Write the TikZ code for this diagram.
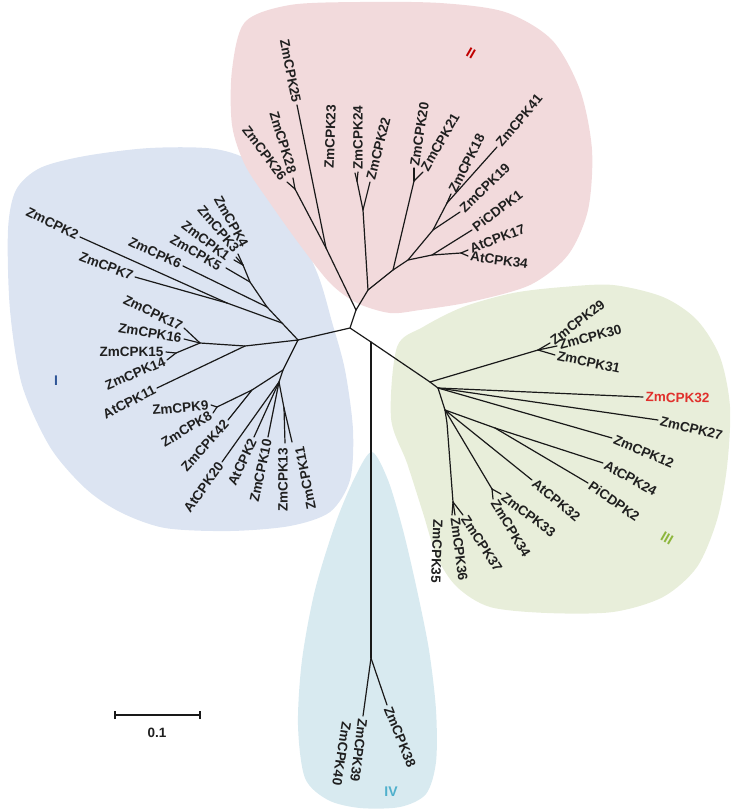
\documentclass[tikz,border=0pt]{standalone}
\usepackage{fontspec}
\setmainfont{Liberation Sans}
\definecolor{blobI}{HTML}{DCE4F2}
\definecolor{blobII}{HTML}{F2DADC}
\definecolor{blobIII}{HTML}{E8EEDA}
\definecolor{blobIV}{HTML}{D8EAF0}
\definecolor{tagI}{HTML}{2F5597}
\definecolor{tagII}{HTML}{C00000}
\definecolor{tagIII}{HTML}{8DB63C}
\definecolor{tagIV}{HTML}{4FB0CC}
\definecolor{hilite}{HTML}{E0302C}
\tikzset{
  branch/.style={draw=black!90, line width=1.2pt, line cap=round},
  tip/.style={font=\fontsize{13.5}{15}\selectfont\bfseries, text=black!88, inner sep=2pt},
  tipL/.style={tip, anchor=east},
  tipR/.style={tip, anchor=west},
  cladetag/.style={font=\fontsize{14}{16}\selectfont\bfseries},
}

\begin{document}
\begin{tikzpicture}[x=1pt, y=-1pt]
  \useasboundingbox (0,0) rectangle (733,811);

  % clade backgrounds
  \fill[blobI] plot[smooth cycle] coordinates {(8,230) (16,190) (40,168) (85,156) (150,148)
    (215,149) (255,165) (290,215) (318,275) (332,322) (345,370) (353,430) (350,480)
    (330,512) (290,526) (230,531) (165,528) (120,512) (85,488) (50,447) (22,385) (10,310)};
  \fill[blobII] plot[smooth cycle] coordinates {(245,22) (290,5) (360,2) (440,3) (505,12)
    (552,40) (580,90) (592,150) (588,210) (568,255) (530,285) (470,302) (420,310)
    (390,313) (357,303) (330,283) (300,245) (270,203) (245,165) (232,125) (232,70)};
  \fill[blobIII] plot[smooth cycle] coordinates {(397,347) (423,327) (463,307) (513,293)
    (563,287) (613,285) (663,297) (697,320) (720,357) (730,407) (727,467) (717,520)
    (697,567) (663,597) (613,612) (547,613) (490,607) (457,587) (437,557) (423,513)
    (407,463) (391,418)};
  \fill[blobIV] plot[smooth cycle] coordinates {(372,452) (388,480) (403,530) (417,590)
    (429,650) (436,710) (436,762) (426,794) (400,807) (360,808) (328,800) (305,778)
    (298,725) (302,660) (315,590) (336,522) (356,475)};

  % clade numerals
  \node[cladetag, text=tagI] (tagI) at (56,381) {I};
  \node[cladetag, text=tagII, rotate=-30] (tagII) at (471,53) {II};
  \node[cladetag, text=tagIII, rotate=-30] (tagIII) at (667,538) {III};
  \node[cladetag, text=tagIV] (tagIV) at (391,792) {IV};

  % internal nodes
  \coordinate (root) at (350,328);
  \coordinate (n4) at (371,342);
  \coordinate (Ir) at (298,340);
  \coordinate (Ia) at (282,323);
  \coordinate (Ia7) at (227,303);
  \coordinate (Ia2) at (267,307);
  \coordinate (Ia3) at (250,282);
  \coordinate (f4) at (243,265);
  \coordinate (Im) at (245,346);
  \coordinate (Im1) at (200,343);
  \coordinate (f1415) at (176,353);
  \coordinate (Ib) at (283,370);
  \coordinate (Ib1) at (252,390);
  \coordinate (f89) at (217,407);
  \coordinate (Ib2) at (279,382);
  \coordinate (f1311) at (284,408);
  \coordinate (IIr) at (356,310);
  \coordinate (IIa) at (326,248);
  \coordinate (f2628) at (295,189);
  \coordinate (IIb) at (368,290);
  \coordinate (IIb1) at (363,210);
  \coordinate (f2324) at (357,181);
  \coordinate (IIc) at (393,270);
  \coordinate (f2021) at (414,181);
  \coordinate (IId) at (408,260);
  \coordinate (IIe) at (433,230);
  \coordinate (IIe2) at (447,203);
  \coordinate (IIf) at (432,255);
  \coordinate (f1734) at (461,253);
  \coordinate (IIIr) at (430,382);
  \coordinate (f2931) at (538,350);
  \coordinate (IIIa) at (438,388);
  \coordinate (IIIb) at (445,410);
  \coordinate (IIIc) at (495,428);
  \coordinate (f3334) at (492,489);
  \coordinate (IIId) at (447,423);
  \coordinate (f3537) at (453,502);
  \coordinate (IVn) at (371,658);

  % tips
  \coordinate (t2) at (80,237);    \coordinate (t7) at (135,277);
  \coordinate (t6) at (183,266);   \coordinate (t5) at (226,268);
  \coordinate (t1) at (234,260);   \coordinate (t3) at (236,257);
  \coordinate (t4) at (238,254);   \coordinate (t17) at (184,328);
  \coordinate (t16) at (184,339);  \coordinate (t15) at (166,352);
  \coordinate (t14) at (167,360);  \coordinate (tA11) at (157,388);
  \coordinate (t9) at (211,405);   \coordinate (t8) at (213,413);
  \coordinate (t42) at (228,420);  \coordinate (tA20) at (222,462);
  \coordinate (tA2) at (254,437);  \coordinate (t10) at (268,437);
  \coordinate (t13) at (285,443);  \coordinate (t11) at (292,442);
  \coordinate (t25) at (297,105);  \coordinate (t28) at (293,178);
  \coordinate (t26) at (287,182);  \coordinate (t23) at (355,173);
  \coordinate (t24) at (358,172);  \coordinate (t22) at (370,182);
  \coordinate (t20) at (414,168);  \coordinate (t21) at (423,172);
  \coordinate (t41) at (497,147);  \coordinate (t18) at (451,194);
  \coordinate (t19) at (460,212);  \coordinate (tP1) at (472,230);
  \coordinate (tA17) at (468,250); \coordinate (tA34) at (468,256);
  \coordinate (t29) at (550,343);  \coordinate (t30) at (557,346);
  \coordinate (t31) at (555,355);  \coordinate (t32) at (643,397);
  \coordinate (t27) at (658,420);  \coordinate (t12) at (612,438);
  \coordinate (tA24) at (603,463); \coordinate (tP2) at (588,483);
  \coordinate (tA32) at (532,480); \coordinate (t33) at (501,494);
  \coordinate (t34) at (493,499);  \coordinate (t37) at (463,515);
  \coordinate (t36) at (455,515);  \coordinate (t35) at (452,515);
  \coordinate (t39) at (363,716);  \coordinate (t38) at (387,705);

  % backbone
  \draw[branch] (Ir) -- (root) -- (IIr);
  \draw[branch] (root) -- (n4) -- (IIIr);
  \draw[branch] (n4) -- (IVn);
  % clade I
  \draw[branch] (Ir) -- (Ia) -- (Ia7);
  \draw[branch] (Ia) -- (Ia2) -- (Ia3) -- (f4);
  \draw[branch] (Ir) -- (Im) -- (Im1) -- (f1415);
  \draw[branch] (Ir) -- (Ib) -- (Ib1) -- (f89);
  \draw[branch] (Ib) -- (Ib2) -- (f1311);
  % clade II
  \draw[branch] (IIr) -- (IIa) -- (f2628);
  \draw[branch] (IIr) -- (IIb) -- (IIb1) -- (f2324);
  \draw[branch] (IIb) -- (IIc) -- (IId) -- (IIf) -- (f1734);
  \draw[branch] (IIc) -- (f2021);
  \draw[branch] (IId) -- (IIe) -- (IIe2);
  % clade III
  \draw[branch] (IIIr) -- (f2931);
  \draw[branch] (IIIr) -- (IIIa) -- (IIIb) -- (IIId) -- (f3537);
  \draw[branch] (IIIb) -- (IIIc);
  \draw[branch] (IIIb) -- (f3334);

  % leaves of clade I
  \draw[branch] (Ia7) -- (t2) node[tipL, rotate=-26] (l2) {ZmCPK2};
  \draw[branch] (Ia7) -- (t7) node[tipL, rotate=-21] (l7) {ZmCPK7};
  \draw[branch] (Ia2) -- (t6) node[tipL, rotate=-25] (l6) {ZmCPK6};
  \draw[branch] (Ia3) -- (t5);
  \draw[branch] (f4) -- (t1);
  \draw[branch] (f4) -- (t3);
  \draw[branch] (f4) -- (t4);
  \node[tipL, rotate=-30] (l5) at (222,268) {ZmCPK5};
  \node[tipL, rotate=-37] (l1) at (230,259) {ZmCPK1};
  \node[tipL, rotate=-50] (l3) at (238,252) {ZmCPK3};
  \node[tipL, rotate=-61] (l4) at (246,248) {ZmCPK4};
  \draw[branch] (Im1) -- (t17) node[tipL, rotate=-26] (l17) {ZmCPK17};
  \draw[branch] (Im1) -- (t16) node[tipL, rotate=-10] (l16) {ZmCPK16};
  \draw[branch] (f1415) -- (t15) node[tipL, rotate=0] (l15) {ZmCPK15};
  \draw[branch] (f1415) -- (t14) node[tipL, rotate=23] (l14) {ZmCPK14};
  \draw[branch] (Im) -- (tA11) node[tipL, rotate=27] (lA11) {AtCPK11};
  \draw[branch] (f89) -- (t9) node[tipL, rotate=5] (l9) {ZmCPK9};
  \draw[branch] (f89) -- (t8) node[tipL, rotate=31] (l8) {ZmCPK8};
  \draw[branch] (Ib1) -- (t42) node[tipL, rotate=48] (l42) {ZmCPK42};
  \draw[branch] (Ib2) -- (tA20) node[tipL, rotate=54] (lA20) {AtCPK20};
  \draw[branch] (Ib2) -- (tA2) node[tipL, rotate=65] (lA2) {AtCPK2};
  \draw[branch] (Ib2) -- (t10) node[tipL, rotate=78] (l10) {ZmCPK10};
  \draw[branch] (f1311) -- (t13);
  \draw[branch] (f1311) -- (t11);
  \node[tipL, rotate=90] (l13) at (283,446) {ZmCPK13};
  \node[tipL, rotate=101] (l11) at (299,445) {ZmCPK11};

  % leaves of clade II
  \draw[branch] (IIa) -- (t25) node[tipL, rotate=-79] (l25) {ZmCPK25};
  \draw[branch] (f2628) -- (t28);
  \draw[branch] (f2628) -- (t26);
  \node[tipL, rotate=-73] (l28) at (293,175) {ZmCPK28};
  \node[tipL, rotate=-53] (l26) at (285,180) {ZmCPK26};
  \draw[branch] (f2324) -- (t23);
  \node[tipR, rotate=88] (l23) at (329,171) {ZmCPK23};
  \draw[branch] (f2324) -- (t24) node[tipR, rotate=90] (l24) {ZmCPK24};
  \draw[branch] (IIb1) -- (t22) node[tipR, rotate=76] (l22) {ZmCPK22};
  \draw[branch] (f2021) -- (t20) node[tipR, rotate=81] (l20) {ZmCPK20};
  \draw[branch] (f2021) -- (t21) node[tipR, rotate=60] (l21) {ZmCPK21};
  \draw[branch] (IIe2) -- (t41) node[tipR, rotate=50] (l41) {ZmCPK41};
  \draw[branch] (IIe2) -- (t18) node[tipR, rotate=63] (l18) {ZmCPK18};
  \draw[branch] (IIe) -- (t19) node[tipR, rotate=44] (l19) {ZmCPK19};
  \draw[branch] (IIf) -- (tP1) node[tipR, rotate=37] (lP1) {PiCDPK1};
  \draw[branch] (f1734) -- (tA17) node[tipR, rotate=21] (lA17) {AtCPK17};
  \draw[branch] (f1734) -- (tA34) node[tipR, rotate=-8] (lA34) {AtCPK34};

  % leaves of clade III
  \draw[branch] (f2931) -- (t29) node[tipR, rotate=37] (l29) {ZmCPK29};
  \draw[branch] (f2931) -- (t30) node[tipR, rotate=15] (l30) {ZmCPK30};
  \draw[branch] (f2931) -- (t31) node[tipR, rotate=-12] (l31) {ZmCPK31};
  \draw[branch] (IIIa) -- (t32) node[tipR, rotate=-1, text=hilite] (l32) {ZmCPK32};
  \draw[branch] (IIIa) -- (t27) node[tipR, rotate=-14] (l27) {ZmCPK27};
  \draw[branch] (IIIa) -- (t12) node[tipR, rotate=-23] (l12) {ZmCPK12};
  \draw[branch] (IIIc) -- (tA24) node[tipR, rotate=-29] (lA24) {AtCPK24};
  \draw[branch] (IIIc) -- (tP2) node[tipR, rotate=-35] (lP2) {PiCDPK2};
  \draw[branch] (IIIb) -- (tA32) node[tipR, rotate=-40] (lA32) {AtCPK32};
  \draw[branch] (f3334) -- (t33) node[tipR, rotate=-37] (l33) {ZmCPK33};
  \draw[branch] (f3334) -- (t34) node[tipR, rotate=-59] (l34) {ZmCPK34};
  \draw[branch] (f3537) -- (t37) node[tipR, rotate=-57] (l37) {ZmCPK37};
  \draw[branch] (f3537) -- (t36) node[tipR, rotate=-83] (l36) {ZmCPK36};
  \draw[branch] (f3537) -- (t35);
  \node[tipR, rotate=-92] (l35) at (438,517) {ZmCPK35};

  % leaves of clade IV
  \draw[branch] (IVn) -- (t39) node[tipR, rotate=-97] (l39) {ZmCPK39};
  \node[tipR, rotate=-99] (l40) at (347,720) {ZmCPK40};
  \draw[branch] (IVn) -- (t38) node[tipR, rotate=-68] (l38) {ZmCPK38};

  % scale bar
  \coordinate (sbL) at (115,715);
  \coordinate (sbR) at (200,715);
  \draw[branch, line cap=butt] (sbL) -- (sbR);
  \draw[branch, line cap=butt] ([yshift=-4pt]sbL) -- ([yshift=4pt]sbL);
  \draw[branch, line cap=butt] ([yshift=-4pt]sbR) -- ([yshift=4pt]sbR);
  \node[tip] (sblab) at (157,733) {0.1};
\end{tikzpicture}
\end{document}
